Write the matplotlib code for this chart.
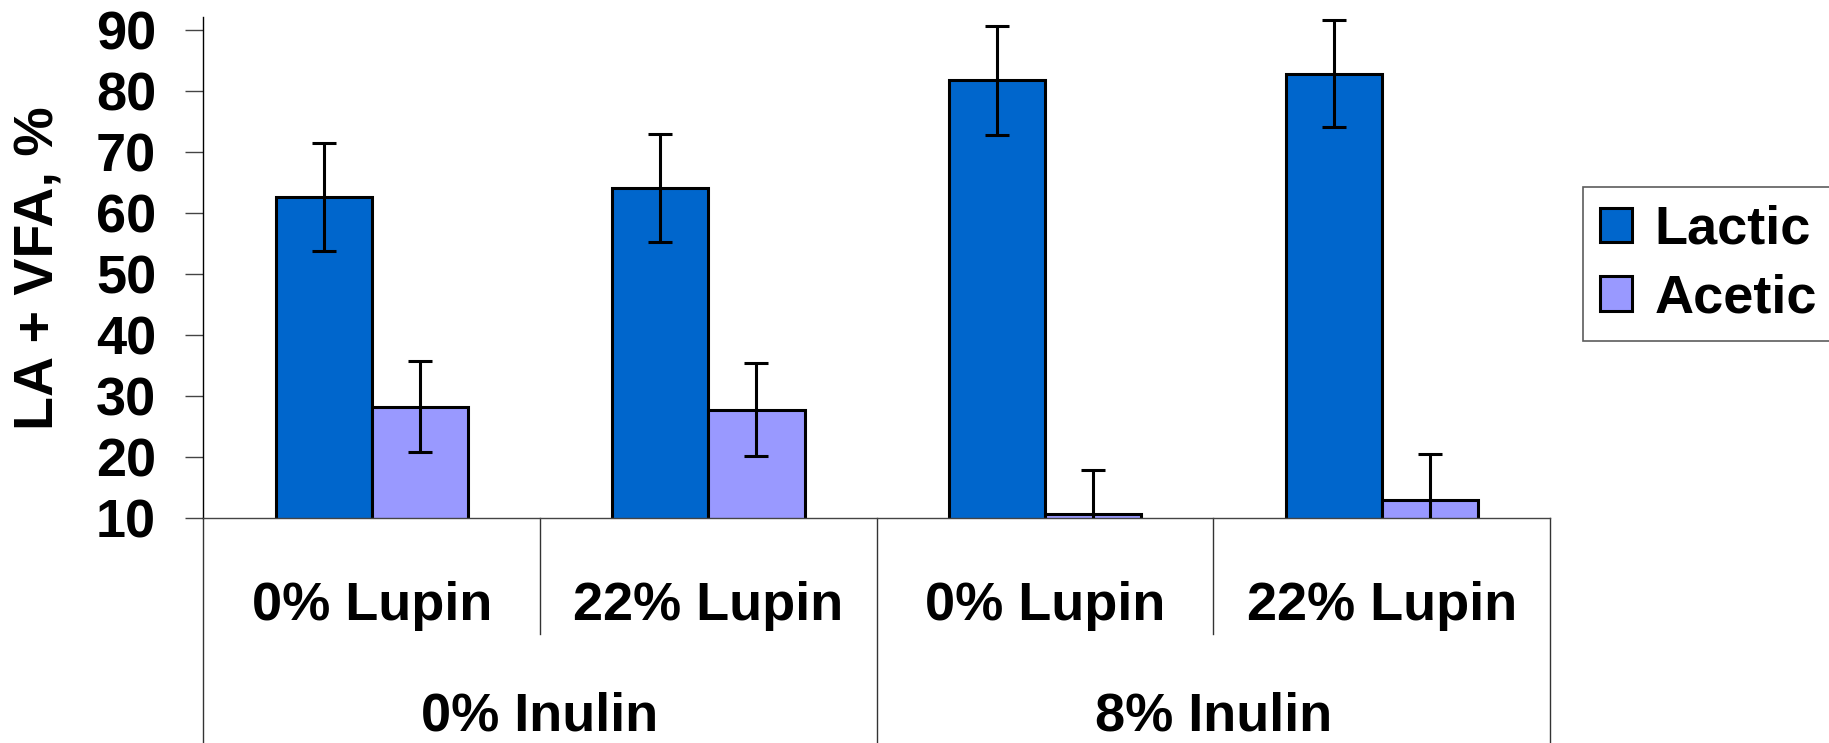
import matplotlib
matplotlib.use("Agg")
import matplotlib.pyplot as plt
import matplotlib.transforms as mtransforms
import numpy as np

plt.rcParams['font.family'] = ['Liberation Sans', 'DejaVu Sans']
plt.rcParams['font.weight'] = 'bold'

lupin = ['0% Lupin', '22% Lupin', '0% Lupin', '22% Lupin']
inulin = ['0% Inulin', '8% Inulin']
series = ['Lactic', 'Acetic']
lactic = [62.6, 64.1, 81.7, 82.8]
lactic_err = [8.8, 8.8, 8.9, 8.8]
acetic = [28.3, 27.8, 10.65, 13.0]
acetic_err = [7.4, 7.6, 7.25, 7.5]
colors = ['#0066CC', '#9999FF']

fig = plt.figure(figsize=(18.29, 7.43), dpi=100)
ax = fig.add_axes([0.1112, 0.3024, 0.7363, 0.6743])

x = np.arange(len(lupin))
w = 1 / 3.5

for off, vals, errs, col, name in [(-w / 2, lactic, lactic_err, colors[0], series[0]),
                                   (w / 2, acetic, acetic_err, colors[1], series[1])]:
    ax.bar(x + off, vals, width=w, color=col, edgecolor='black', linewidth=2.2, label=name, zorder=2)
    ax.errorbar(x + off, vals, yerr=errs, fmt='none', ecolor='black', elinewidth=2.2,
                capsize=8.5, capthick=2.2, zorder=3)

ax.set_xlim(-0.5, len(lupin) - 0.5)
ax.set_ylim(10, 92)
ax.set_yticks(range(10, 91, 10))
ax.tick_params(axis='y', direction='out', length=13, width=1, color='#444444',
               pad=21, labelsize=39)
ax.set_xticks([])
for s in ['top', 'right']:
    ax.spines[s].set_visible(False)
ax.spines['left'].set_linewidth(1)
ax.spines['left'].set_color('black')
ax.spines['bottom'].set_linewidth(1)
ax.spines['bottom'].set_color('#444444')

ax.set_ylabel('LA + VFA, %', fontsize=40, fontweight='bold')
ax.yaxis.set_label_coords(-0.122, 0.5)
ax.yaxis.label.set_va('center')

# two-level category axis below the plot
trans = mtransforms.blended_transform_factory(ax.transData, ax.transAxes)
for i, lab in enumerate(lupin):
    ax.text(i, -0.203, lab, transform=trans, ha='center', va='baseline', fontsize=39)
per_group = len(lupin) // len(inulin)
for j, lab in enumerate(inulin):
    xc = j * per_group + (per_group - 1) / 2
    ax.text(xc, -0.4245, lab, transform=trans, ha='center', va='baseline', fontsize=39)

for k in range(len(lupin) + 1):
    xb = k - 0.5
    y_end = -0.5 if k % per_group == 0 else -0.231
    ax.plot([xb, xb], [0, y_end], transform=trans, color='#333333', lw=1, clip_on=False)

leg = fig.legend(loc='upper left', bbox_to_anchor=(1582.7 / 1829, 1 - 187.3 / 743),
                 borderaxespad=0, fontsize=39, frameon=True, fancybox=False,
                 handlelength=0.59, handleheight=0.59, handletextpad=0.42,
                 borderpad=0.32, labelspacing=0.35)
leg.get_frame().set_edgecolor('#333333')
leg.get_frame().set_linewidth(1.2)
for t in leg.get_texts():
    t.set_fontweight('bold')

fig.savefig('out.png', dpi=100)
